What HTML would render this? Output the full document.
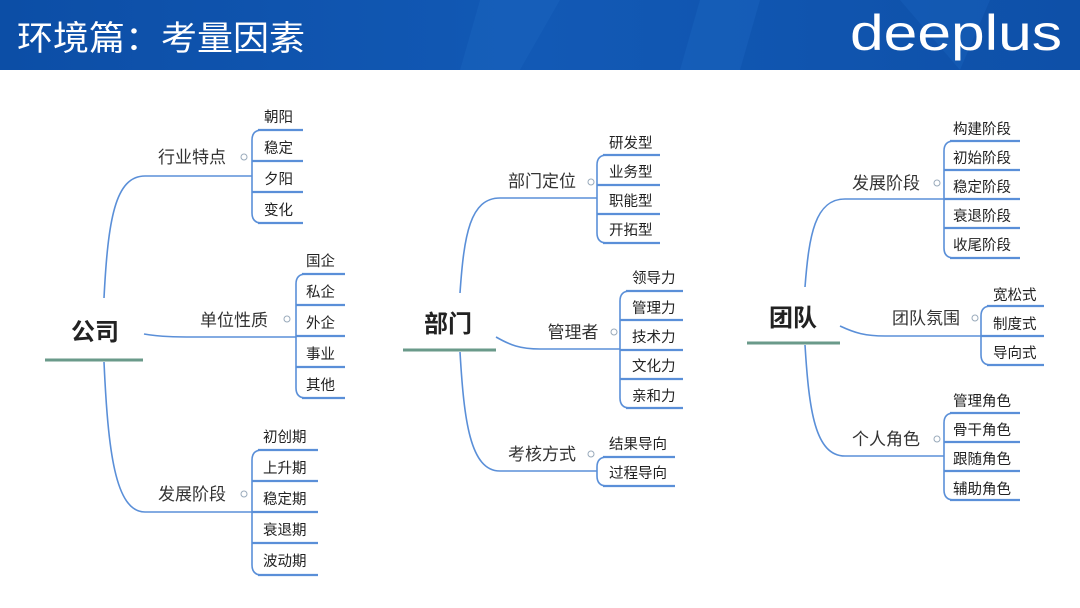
<!DOCTYPE html>
<html><head><meta charset="utf-8"><style>
html,body{margin:0;padding:0;background:#fff;width:1080px;height:608px;overflow:hidden}
svg{display:block}
text{font-family:"Liberation Sans","Noto Sans CJK SC",sans-serif;fill:#222}
.l{fill:none;stroke:#5a8fd8;stroke-width:1.6}
.u{fill:none;stroke:#5a8fd8;stroke-width:2.2}
.lf{font-size:14.5px}
.br{font-size:17px;fill:#333}
.rt{font-size:24px;font-weight:bold;fill:#222}
.c{fill:#fff;stroke:#9ab;stroke-width:1}
</style></head><body>
<svg width="1080" height="608" viewBox="0 0 1080 608" xmlns="http://www.w3.org/2000/svg">
<defs><linearGradient id="g" x1="0" y1="0" x2="1" y2="0"><stop offset="0" stop-color="#0c4ea6"/><stop offset="0.5" stop-color="#1259b5"/><stop offset="1" stop-color="#0e50a8"/></linearGradient></defs>
<rect x="0" y="0" width="1080" height="70" fill="url(#g)"/>
<polygon points="480,0 560,0 520,70 460,70" fill="#1a63bd" opacity="0.5"/>
<polygon points="700,0 760,0 740,70 680,70" fill="#1a63bd" opacity="0.5"/>
<polygon points="900,0 990,0 960,70" fill="#1a63bd" opacity="0.4"/>
<text x="17" y="50" textLength="288" lengthAdjust="spacingAndGlyphs" style="font-size:34px;fill:#fff">环境篇：考量因素</text>
<text x="850" y="50" textLength="212" lengthAdjust="spacingAndGlyphs" style="font-size:50px;fill:#fff">deeplus</text>

<!-- 公司 -->
<text x="95" y="340" text-anchor="middle" class="rt">公司</text>
<line x1="45" y1="360" x2="143" y2="360" stroke="#6a9a8a" stroke-width="3"/>
<path class="l" d="M104,298 C108,220 115,176 145,176 L252,176"/>
<path class="l" d="M144,334 C160,337 180,337 200,337 L296,337"/>
<path class="l" d="M104,362 C108,450 115,512 145,512 L252,512"/>
<text x="192" y="163" text-anchor="middle" class="br">行业特点</text>
<text x="234" y="326" text-anchor="middle" class="br">单位性质</text>
<text x="192" y="500" text-anchor="middle" class="br">发展阶段</text>
<circle class="c" cx="244" cy="157" r="3"/><circle class="c" cx="287" cy="319" r="3"/><circle class="c" cx="244" cy="494" r="3"/>
<path class="l" d="M262,130 Q252,130 252,140 L252,213 Q252,223 262,223"/>
<g class="u"><path d="M258,130H303M252,161H303M252,192H303M258,223H303"/></g>
<g class="lf"><text x="264" y="122">朝阳</text><text x="264" y="153">稳定</text><text x="264" y="184">夕阳</text><text x="264" y="215">变化</text></g>
<path class="l" d="M306,274 Q296,274 296,284 L296,388 Q296,398 306,398"/>
<g class="u"><path d="M302,274H345M296,305H345M296,336H345M296,367H345M302,398H345"/></g>
<g class="lf"><text x="306" y="266">国企</text><text x="306" y="297">私企</text><text x="306" y="328">外企</text><text x="306" y="359">事业</text><text x="306" y="390">其他</text></g>
<path class="l" d="M262,450 Q252,450 252,460 L252,565 Q252,575 262,575"/>
<g class="u"><path d="M258,450H318M252,481H318M252,512H318M252,543H318M258,575H318"/></g>
<g class="lf"><text x="263" y="442">初创期</text><text x="263" y="473">上升期</text><text x="263" y="504">稳定期</text><text x="263" y="535">衰退期</text><text x="263" y="566">波动期</text></g>

<!-- 部门 -->
<text x="448" y="332" text-anchor="middle" class="rt">部门</text>
<line x1="403" y1="350" x2="496" y2="350" stroke="#6a9a8a" stroke-width="3"/>
<path class="l" d="M460,293 C464,235 470,198 500,198 L597,198"/>
<path class="l" d="M496,337 C510,345 520,349 540,349 L620,349"/>
<path class="l" d="M460,352 C464,420 470,471 500,471 L597,471"/>
<text x="542" y="187" text-anchor="middle" class="br">部门定位</text>
<text x="573" y="338" text-anchor="middle" class="br">管理者</text>
<text x="542" y="460" text-anchor="middle" class="br">考核方式</text>
<circle class="c" cx="591" cy="182" r="3"/><circle class="c" cx="614" cy="332" r="3"/><circle class="c" cx="591" cy="454" r="3"/>
<path class="l" d="M607,155 Q597,155 597,165 L597,233 Q597,243 607,243"/>
<g class="u"><path d="M603,155H660M597,185H660M597,214H660M603,243H660"/></g>
<g class="lf"><text x="609" y="148">研发型</text><text x="609" y="177">业务型</text><text x="609" y="206">职能型</text><text x="609" y="235">开拓型</text></g>
<path class="l" d="M630,291 Q620,291 620,301 L620,398 Q620,408 630,408"/>
<g class="u"><path d="M626,291H683M620,320H683M620,350H683M620,379H683M626,408H683"/></g>
<g class="lf"><text x="632" y="283">领导力</text><text x="632" y="313">管理力</text><text x="632" y="342">技术力</text><text x="632" y="371">文化力</text><text x="632" y="401">亲和力</text></g>
<path class="l" d="M607,457 Q597,457 597,467 L597,476 Q597,486 607,486"/>
<g class="u"><path d="M603,457H675M603,486H675"/></g>
<g class="lf"><text x="609" y="449">结果导向</text><text x="609" y="478">过程导向</text></g>

<!-- 团队 -->
<text x="793" y="326" text-anchor="middle" class="rt">团队</text>
<line x1="747" y1="343" x2="840" y2="343" stroke="#6a9a8a" stroke-width="3"/>
<path class="l" d="M805,287 C809,235 815,199 845,199 L944,199"/>
<path class="l" d="M840,326 C855,333 865,336 885,336 L981,336"/>
<path class="l" d="M805,345 C809,410 815,456 845,456 L944,456"/>
<text x="886" y="189" text-anchor="middle" class="br">发展阶段</text>
<text x="926" y="324" text-anchor="middle" class="br">团队氛围</text>
<text x="886" y="445" text-anchor="middle" class="br">个人角色</text>
<circle class="c" cx="937" cy="183" r="3"/><circle class="c" cx="975" cy="318" r="3"/><circle class="c" cx="937" cy="439" r="3"/>
<path class="l" d="M954,141 Q944,141 944,151 L944,248 Q944,258 954,258"/>
<g class="u"><path d="M950,141H1020M944,170H1020M944,199H1020M944,228H1020M950,258H1020"/></g>
<g class="lf"><text x="953" y="134">构建阶段</text><text x="953" y="163">初始阶段</text><text x="953" y="192">稳定阶段</text><text x="953" y="221">衰退阶段</text><text x="953" y="250">收尾阶段</text></g>
<path class="l" d="M991,306 Q981,306 981,316 L981,355 Q981,365 991,365"/>
<g class="u"><path d="M987,306H1044M981,336H1044M987,365H1044"/></g>
<g class="lf"><text x="993" y="300">宽松式</text><text x="993" y="329">制度式</text><text x="993" y="358">导向式</text></g>
<path class="l" d="M954,413 Q944,413 944,423 L944,490 Q944,500 954,500"/>
<g class="u"><path d="M950,413H1020M944,442H1020M944,471H1020M950,500H1020"/></g>
<g class="lf"><text x="953" y="406">管理角色</text><text x="953" y="435">骨干角色</text><text x="953" y="464">跟随角色</text><text x="953" y="494">辅助角色</text></g>
</svg>
</body></html>
